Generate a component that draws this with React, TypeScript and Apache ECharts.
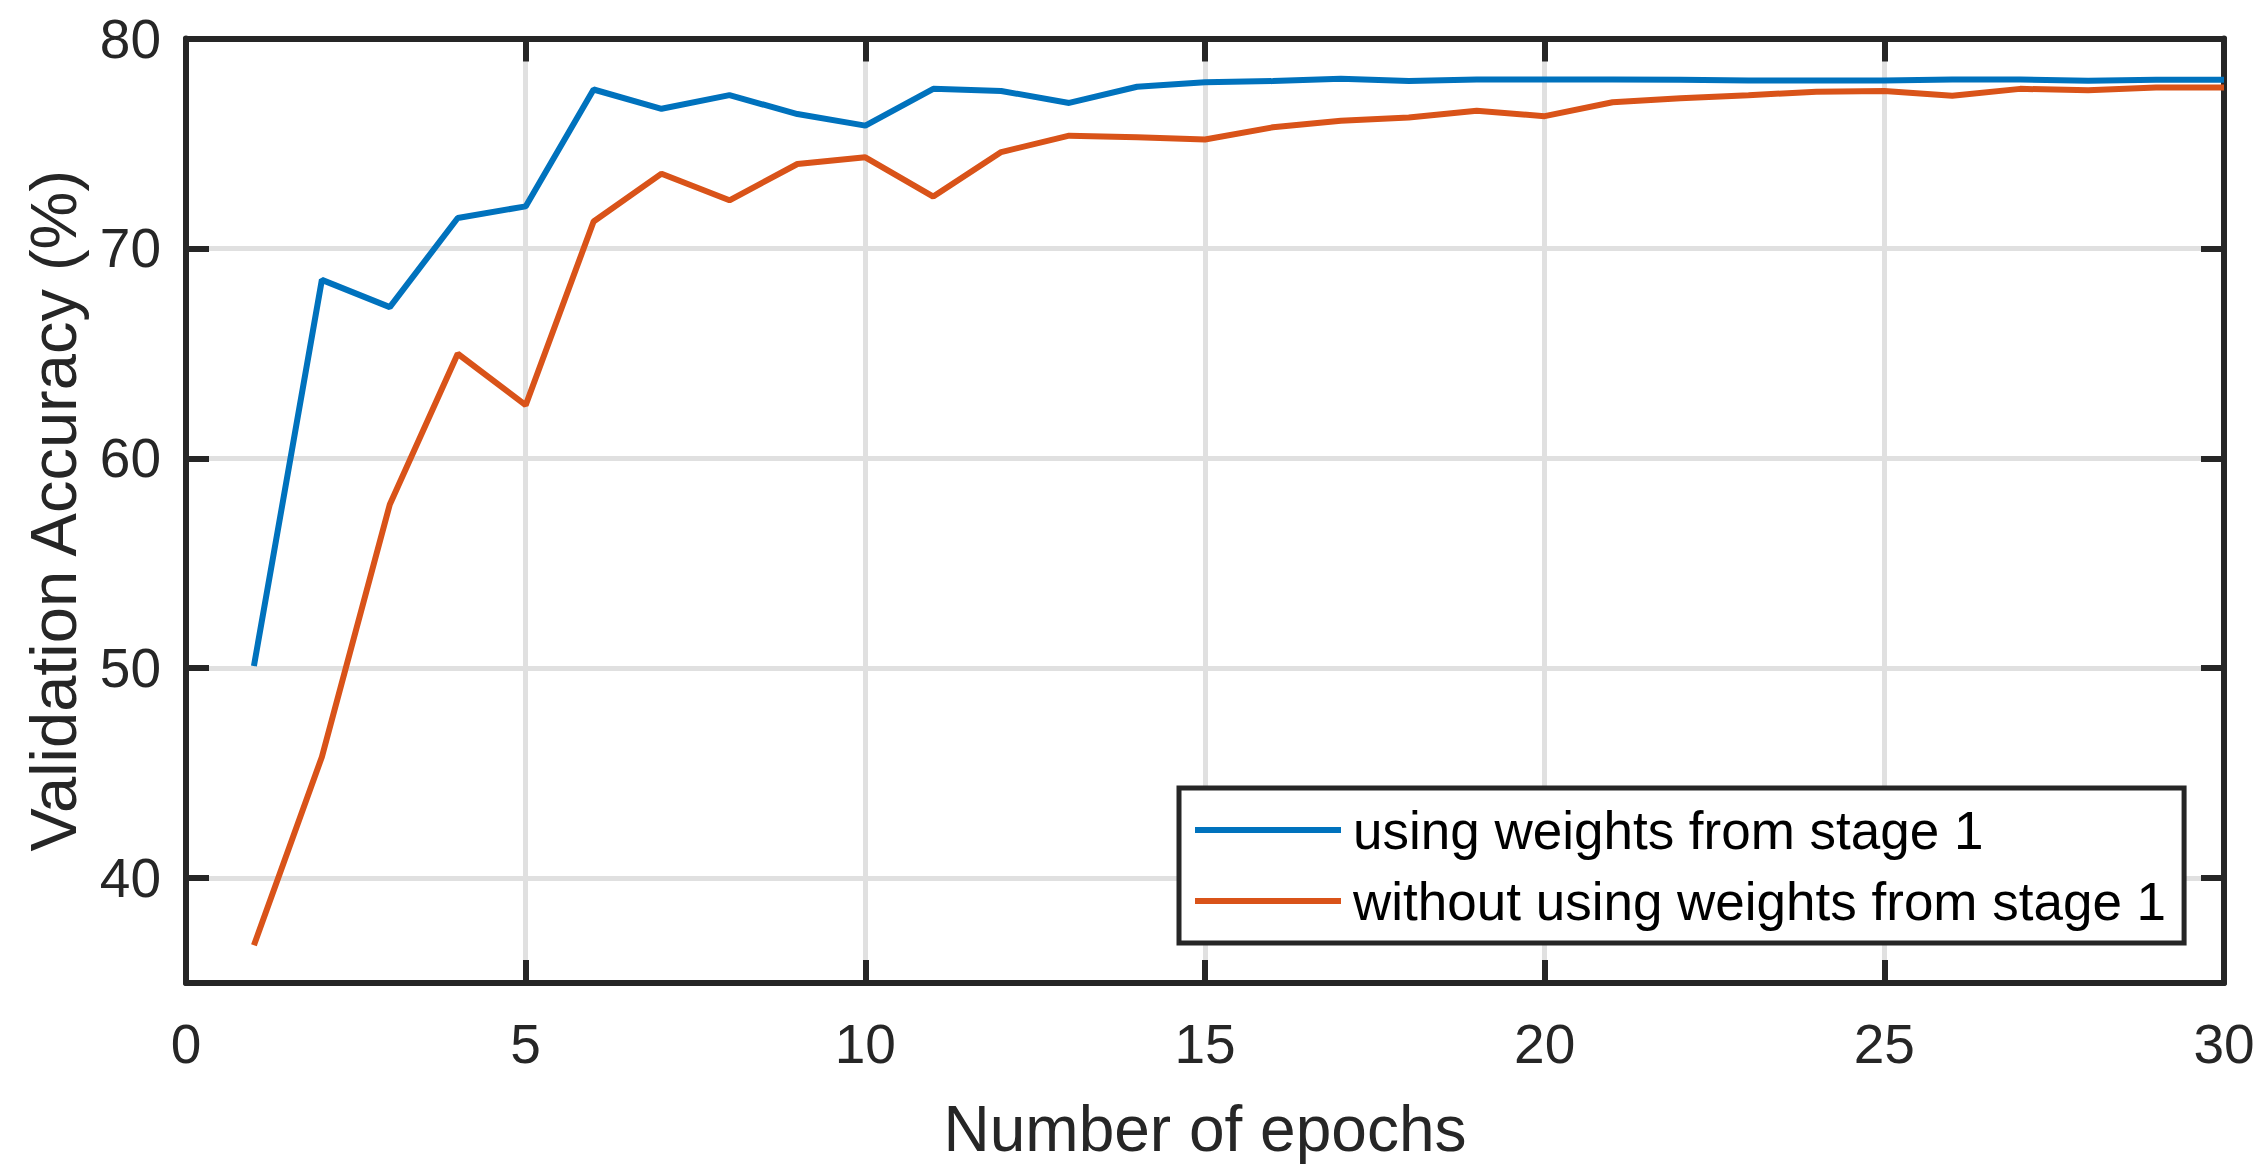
import React, { useEffect, useRef } from "react";
import * as echarts from "echarts";

const epochs = [1, 2, 3, 4, 5, 6, 7, 8, 9, 10, 11, 12, 13, 14, 15, 16, 17, 18, 19, 20, 21, 22, 23, 24, 25, 26, 27, 28, 29, 30];
const withStage1 = [50.1, 68.5, 67.2, 71.45, 72.0, 77.57, 76.65, 77.3, 76.4, 75.85, 77.6, 77.5, 76.93, 77.7, 77.92, 77.97, 78.08, 77.97, 78.05, 78.05, 78.05, 78.04, 78.0, 78.0, 78.0, 78.05, 78.05, 77.99, 78.03, 78.03];
const withoutStage1 = [36.8, 45.77, 57.8, 64.98, 62.53, 71.28, 73.56, 72.29, 74.02, 74.34, 72.47, 74.59, 75.37, 75.29, 75.19, 75.77, 76.08, 76.24, 76.56, 76.3, 76.96, 77.15, 77.3, 77.46, 77.5, 77.27, 77.6, 77.54, 77.67, 77.67];
const seriesNames = ["using weights from stage 1", "without using weights from stage 1"];
const yTicks = [40, 50, 60, 70, 80];
const xTitle = "Number of epochs";
const yTitle = "Validation Accuracy (%)";

const FONT = "Liberation Sans, Arial, Helvetica, sans-serif";
const INK = "#262626";
const GRID = "#e0e0e0";

export default function App() {
  const ref = useRef<HTMLDivElement>(null);
  useEffect(() => {
    if (!ref.current) return;
    const chart = echarts.init(ref.current, null, { renderer: "svg" });
    const axisLine = { show: true, onZero: false, lineStyle: { color: INK, width: 6 } };
    const tick = { show: true, inside: true, length: 23, lineStyle: { color: INK, width: 6 } };
    chart.setOption({
      animation: false,
      backgroundColor: "#ffffff",
      textStyle: { fontFamily: FONT },
      grid: { left: 186, top: 38.5, width: 2038, height: 944.5, containLabel: false },
      legend: {
        orient: "vertical",
        left: 1179,
        top: 788,
        padding: [12, 18, 12, 16],
        borderColor: INK,
        borderWidth: 5,
        backgroundColor: "#ffffff",
        itemWidth: 146,
        itemHeight: 6,
        itemGap: 11,
        icon: "rect",
        textStyle: { fontFamily: FONT, fontSize: 53, color: "#000000", lineHeight: 60, padding: [0, 0, 0, 7] },
        data: seriesNames,
      },
      xAxis: [
        {
          type: "value",
          min: 0,
          max: 30,
          interval: 5,
          position: "bottom",
          axisLine,
          axisTick: tick,
          axisLabel: { fontFamily: FONT, fontSize: 55, color: INK, margin: 33 },
          splitLine: { show: true, lineStyle: { color: GRID, width: 5 } },
          name: xTitle,
          nameLocation: "middle",
          nameGap: 114,
          nameTextStyle: { fontFamily: FONT, fontSize: 64, color: INK },
        },
        {
          type: "value",
          min: 0,
          max: 30,
          interval: 5,
          position: "top",
          axisLine,
          axisTick: tick,
          axisLabel: { show: false },
          splitLine: { show: false },
        },
      ],
      yAxis: [
        {
          type: "value",
          min: 35,
          max: 80,
          position: "left",
          axisLine,
          axisTick: { ...tick, customValues: yTicks },
          axisLabel: { fontFamily: FONT, fontSize: 55, color: INK, margin: 25, customValues: yTicks },
          splitLine: { show: true, lineStyle: { color: GRID, width: 5 } },
          name: yTitle,
          nameLocation: "middle",
          nameGap: 100,
          nameTextStyle: { fontFamily: FONT, fontSize: 65, color: INK },
        },
        {
          type: "value",
          min: 35,
          max: 80,
          position: "right",
          axisLine,
          axisTick: { ...tick, customValues: yTicks },
          axisLabel: { show: false, customValues: yTicks },
          splitLine: { show: false },
        },
      ],
      series: [
        {
          name: seriesNames[0],
          type: "line",
          data: epochs.map((e, i) => [e, withStage1[i]]),
          showSymbol: false,
          symbol: "none",
          color: "#0072BD",
          lineStyle: { color: "#0072BD", width: 6 },
          z: 3,
        },
        {
          name: seriesNames[1],
          type: "line",
          data: epochs.map((e, i) => [e, withoutStage1[i]]),
          showSymbol: false,
          symbol: "none",
          color: "#D95319",
          lineStyle: { color: "#D95319", width: 6 },
          z: 3,
        },
      ],
    });
    return () => chart.dispose();
  }, []);
  return (
    <div
      ref={ref}
      style={{ position: "fixed", left: 0, top: 0, width: 2260, height: 1167, background: "#ffffff" }}
    />
  );
}
